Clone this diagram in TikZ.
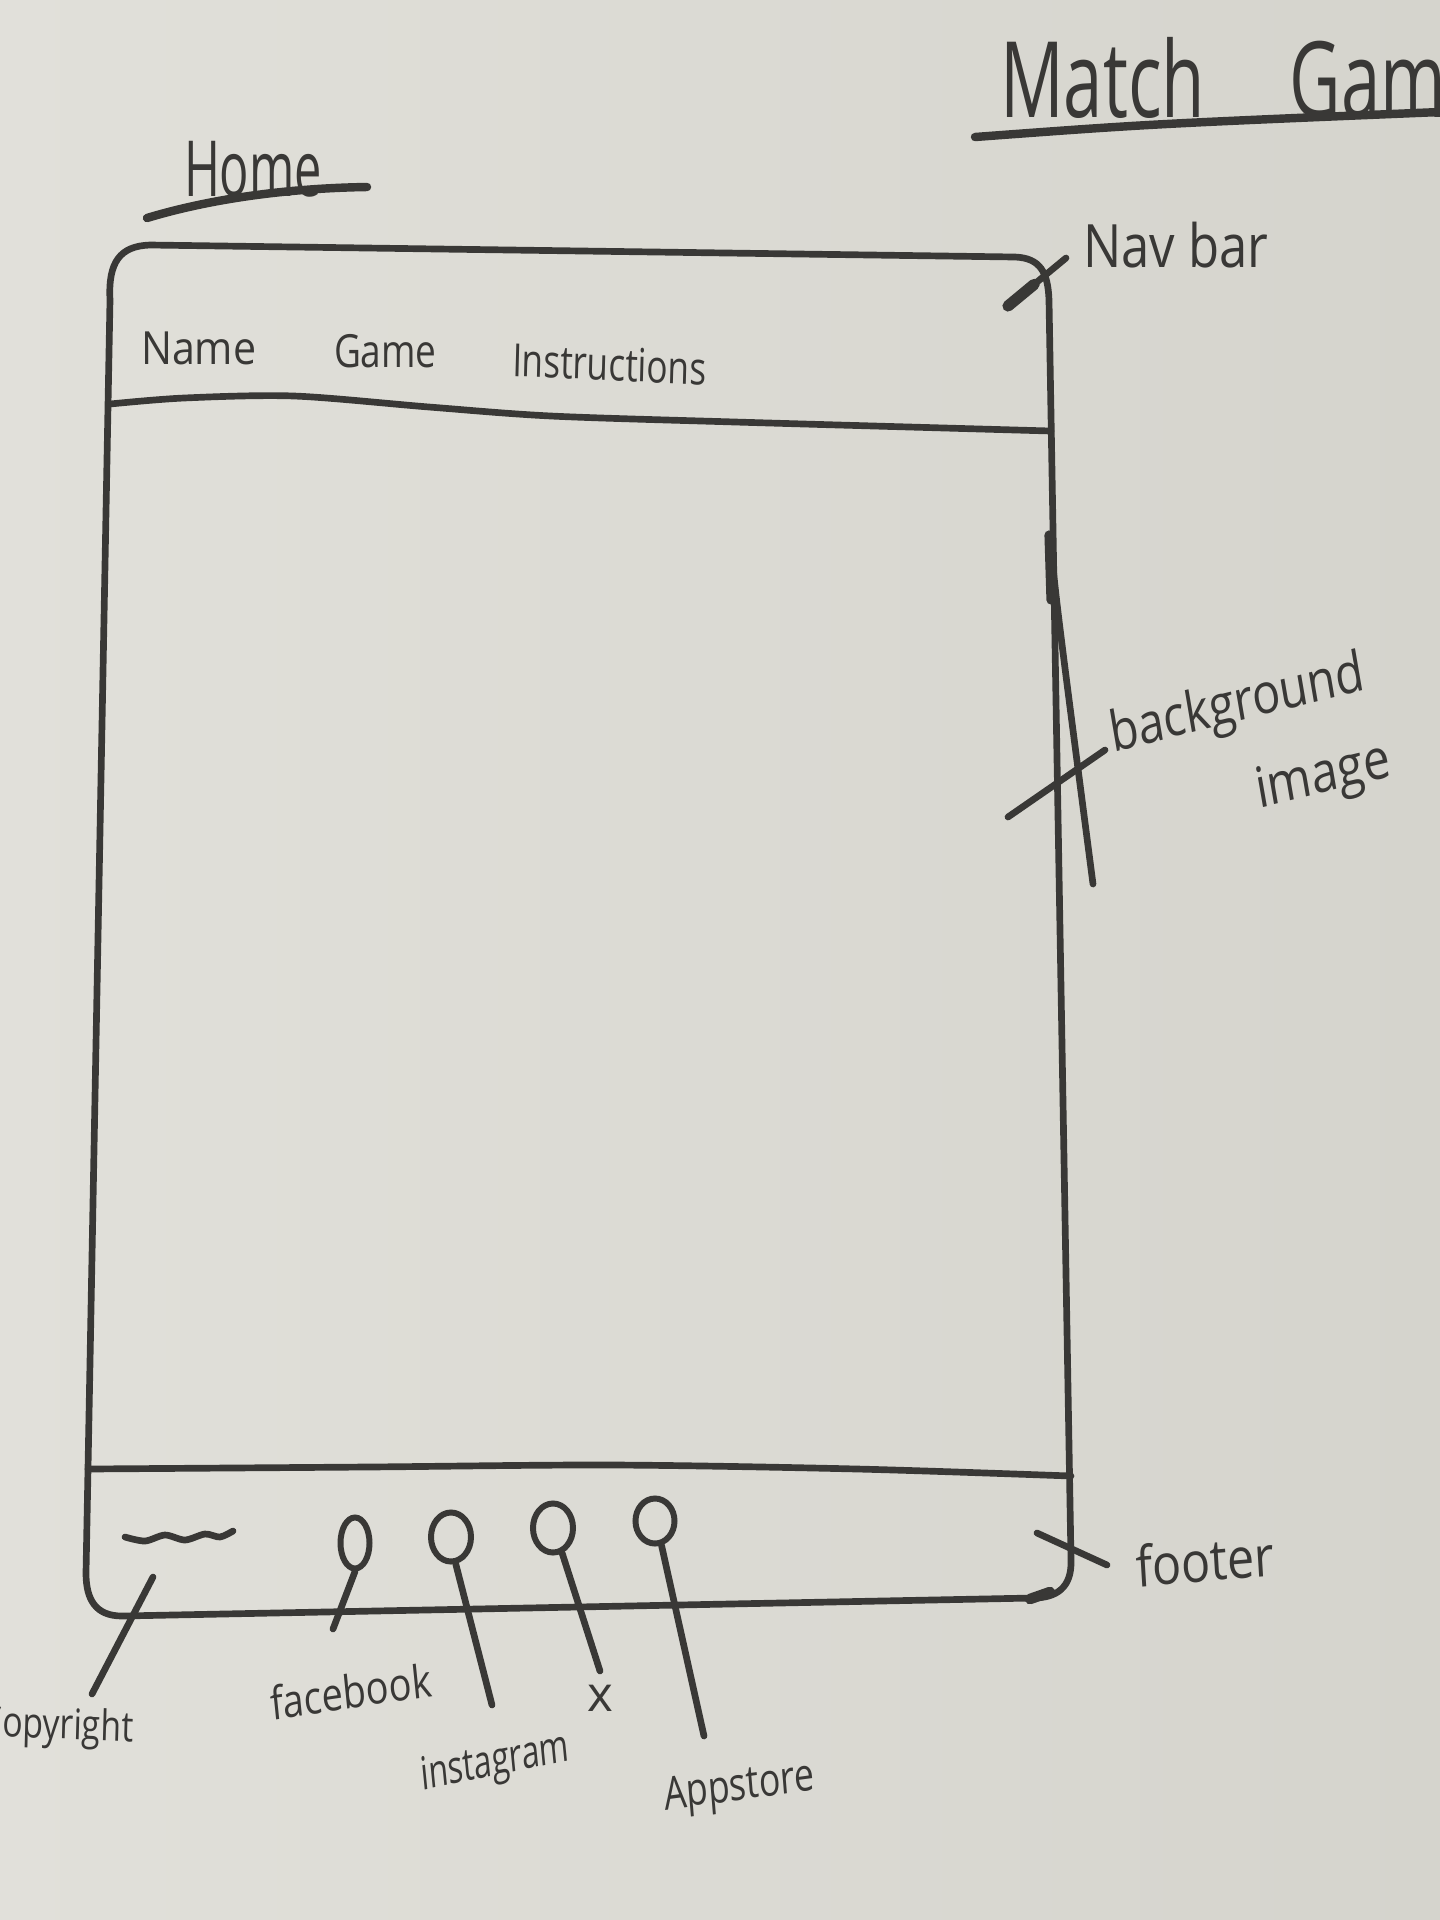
\documentclass[tikz,border=0pt]{standalone}
\usepackage{fontspec}
\setmainfont{Open Sans}
\usetikzlibrary{shapes.geometric,calc}
\definecolor{paperA}{HTML}{E1E0DA}
\definecolor{paperB}{HTML}{D5D4CD}
\definecolor{ink}{HTML}{393836}
\newcommand{\fs}[1]{\fontsize{#1}{#1}\selectfont}
\begin{document}
\begin{tikzpicture}[x=0.01cm,y=-0.01cm,
  pen/.style={draw=ink, line width=1.9pt, line cap=round, line join=round},
  thickpen/.style={pen, line width=2.4pt},
  hand/.style={text=ink, inner sep=0pt, outer sep=0pt},
  drop/.style={ellipse, draw=ink, line width=1.7pt, inner sep=0pt},
]
\useasboundingbox (0,0) rectangle (1440,1920);
\shade[left color=paperA, right color=paperB] (0,0) rectangle (1440,1920);
\clip (0,0) rectangle (1440,1920);

% page titles
\node[hand, anchor=base west, font=\fs{30}, xscale=0.67] (title) at (1000,117) {Match\hspace{1.2em}Game};
\draw[thickpen] (975,137) .. controls (1150,124) .. (1440,112);
\node[hand, anchor=base west, font=\fs{22}, xscale=0.63] (home) at (184,196) {Home};
\draw[thickpen] (147,218) .. controls (220,196) and (300,188) .. (367,187);

% phone frame
\draw[pen] (110,300) .. controls (108,262) and (120,246) .. (150,245)
  -- (1015,257) .. controls (1040,258) and (1048,272) .. (1049,300)
  -- (1071,1560) .. controls (1072,1588) and (1056,1598) .. (1033,1598)
  -- (122,1616) .. controls (96,1616) and (86,1600) .. (86,1573)
  -- (88,1469) -- cycle;

% nav bar and footer separators
\draw[pen] plot[smooth] coordinates {(110,404) (184,398) (294,396) (429,407) (551,416) (735,422) (1051,431)};
\draw[pen] plot[smooth] coordinates {(88,1469) (367,1467) (612,1465) (857,1469) (1071,1476)};

% navigation links
\node[hand, anchor=base west, font=\fs{13}, xscale=0.9] (name) at (141,364) {Name};
\node[hand, anchor=base west, font=\fs{13}, xscale=0.81] (game) at (334,367) {Game};
\node[hand, anchor=base west, font=\fs{13}, xscale=0.77, rotate=-2] (instr) at (512,376) {Instructions};

% nav bar annotation
\node[hand, anchor=base west, font=\fs{17}, xscale=0.85] (navlbl) at (1083,267) {Nav bar};
\coordinate (navA) at (1008,306);
\coordinate (navB) at (1066,258);
\draw[pen] (navA) -- (navB);
\draw[pen, line width=3.2pt] (navA) -- ($(navA)!0.45!(navB)$);

% background image annotation
\coordinate (bgTop) at (1050,535);
\coordinate (bgBot) at (1093,884);
\coordinate (bgX1) at (1008,817);
\coordinate (bgX2) at (1105,750);
\draw[pen, line width=2.6pt] (1049,535) -- (1051,600);
\draw[pen] (bgTop) .. controls (1056,600) .. (bgBot);
\draw[pen] (bgX1) -- (bgX2);
\node[hand, anchor=base west, font=\fs{16}, xscale=0.83, rotate=11.6] (bglbl) at (1113,752) {background};
\node[hand, anchor=base west, font=\fs{16}, xscale=0.85, rotate=11.5] (imglbl) at (1259,808) {image};

% footer annotation
\coordinate (ftA) at (1037,1533);
\coordinate (ftB) at (1107,1565);
\draw[pen] (ftA) -- (ftB);
\draw[pen, line width=3pt] (1050,1592) -- (1030,1599);
\node[hand, anchor=base west, font=\fs{16}, xscale=0.86, rotate=4] (ftlbl) at (1137,1587) {footer};

% footer contents
\draw[pen] plot[smooth] coordinates {(125,1537) (145,1541) (165,1535) (185,1540) (205,1534) (220,1537) (233,1531)};
\node[drop, minimum width=0.29cm, minimum height=0.51cm] (fb) at (355,1543) {};
\node[drop, minimum width=0.40cm, minimum height=0.49cm] (ig) at (451,1537) {};
\node[drop, minimum width=0.40cm, minimum height=0.49cm] (xx) at (553,1528) {};
\node[drop, minimum width=0.39cm, minimum height=0.45cm] (as) at (655,1521) {};

\coordinate (cpTop) at (153,1577);
\coordinate (cpEnd) at (92,1694);
\coordinate (fbEnd) at (333,1629);
\coordinate (igEnd) at (492,1705);
\coordinate (xxEnd) at (600,1671);
\coordinate (asEnd) at (704,1736);
\draw[pen] (cpTop) -- (cpEnd);
\draw[pen] (fb.south) -- (fbEnd);
\draw[pen] (ig.-80) -- (igEnd);
\draw[pen] (xx.-70) -- (xxEnd);
\draw[pen] (as.-75) -- (asEnd);

\node[hand, anchor=base east, font=\fs{12}, xscale=0.8, rotate=-2] (cplbl) at (133,1742) {Copyright};
\node[hand, anchor=base west, font=\fs{13}, xscale=0.83, rotate=7] (fblbl) at (272,1720) {facebook};
\node[hand, anchor=base west, font=\fs{13}, xscale=0.7, rotate=8] (iglbl) at (422,1790) {instagram};
\node[hand, font=\fs{14}] (xxlbl) at (600,1698) {x};
\node[hand, anchor=base west, font=\fs{13}, xscale=0.78, rotate=6] (aslbl) at (665,1810) {Appstore};
\end{tikzpicture}
\end{document}
